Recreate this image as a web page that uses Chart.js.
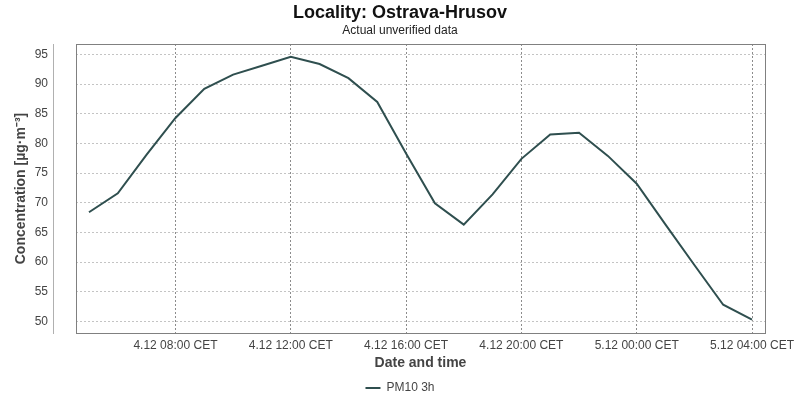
<!DOCTYPE html>
<html>
<head>
<meta charset="utf-8">
<script src="https://cdn.jsdelivr.net/npm/chart.js@4/dist/chart.umd.min.js"></script>
<style>
  html, body { margin: 0; background: #fff; }
</style>
</head>
<body>
<canvas id="chart" width="800" height="400"></canvas>
<script>
// hours counted from 4.12 00:00 CET (24 = 5.12 00:00)
const hours = [5, 6, 7, 8, 9, 10, 11, 12, 13, 14, 15, 16, 17, 18, 19, 20, 21, 22, 23, 24, 25, 26, 27, 28];
const pm10 = [68.4, 71.6, 78.1, 84.3, 89.2, 91.6, 93.1, 94.6, 93.4, 91.0, 87.0, 78.3, 69.9, 66.3, 71.4, 77.4, 81.5, 81.8, 77.9, 73.2, 66.3, 59.5, 52.8, 50.3];

const xTickHours = [8, 12, 16, 20, 24, 28];
const xTickLabels = ["4.12 08:00 CET", "4.12 12:00 CET", "4.12 16:00 CET", "4.12 20:00 CET", "5.12 00:00 CET", "5.12 04:00 CET"];
const yTicks = [50, 55, 60, 65, 70, 75, 80, 85, 90, 95];

const FONT = "'Liberation Sans', Arial, sans-serif";
const LINE = "#2f4f4f";
const TEXT = "#444444";

// plot frame + detached value axis line
const framePlugin = {
  id: "frame",
  afterDraw(chart) {
    const { ctx, chartArea: a } = chart;
    ctx.save();
    ctx.strokeStyle = "#808080";
    ctx.lineWidth = 1;
    ctx.strokeRect(a.left + 0.5, a.top + 0.5, a.right - a.left, a.bottom - a.top);
    ctx.strokeStyle = "#b0b0b0";
    ctx.beginPath();
    ctx.moveTo(a.left - 22.5, a.top);
    ctx.lineTo(a.left - 22.5, a.bottom + 1);
    ctx.stroke();
    ctx.restore();
  },
};

new Chart(document.getElementById("chart"), {
  type: "line",
  data: {
    datasets: [
      {
        label: "PM10 3h",
        data: hours.map((h, i) => ({ x: h, y: pm10[i] })),
        borderColor: LINE,
        backgroundColor: LINE,
        borderWidth: 2,
        pointRadius: 0,
        tension: 0,
      },
    ],
  },
  options: {
    responsive: false,
    animation: false,
    layout: { padding: { left: 4, right: 4, top: 0, bottom: -4 } },
    plugins: {
      title: {
        display: true,
        text: "Locality: Ostrava-Hrusov",
        color: "#111",
        font: { family: FONT, size: 18, weight: "bold" },
        padding: { top: 2, bottom: 0 },
      },
      subtitle: {
        display: true,
        text: "Actual unverified data",
        color: "#222",
        font: { family: FONT, size: 12 },
        padding: { top: 0, bottom: 6 },
      },
      legend: {
        position: "bottom",
        labels: {
          color: TEXT,
          font: { family: FONT, size: 12 },
          boxWidth: 15,
          boxHeight: 0,
          padding: 0,
        },
      },
      tooltip: { enabled: false },
    },
    scales: {
      x: {
        type: "linear",
        min: 4.55,
        max: 28.45,
        afterBuildTicks: (scale) => {
          scale.ticks = xTickHours.map((v) => ({ value: v }));
        },
        afterFit: (scale) => {
          scale.height = 49;
        },
        ticks: {
          padding: 5,
          maxRotation: 0,
          autoSkip: false,
          color: TEXT,
          font: { family: FONT, size: 12 },
          callback: (v) => xTickLabels[xTickHours.indexOf(v)],
        },
        grid: { color: "#8c8c8c", drawTicks: false },
        border: { display: false, dash: [2, 2] },
        title: {
          display: true,
          text: "Date and time",
          color: TEXT,
          font: { family: FONT, size: 14, weight: "bold" },
          padding: { top: 0, bottom: 10 },
        },
      },
      y: {
        min: 48.03,
        max: 96.77,
        afterBuildTicks: (scale) => {
          scale.ticks = yTicks.map((v) => ({ value: v }));
        },
        afterFit: (scale) => {
          scale.width = 72;
        },
        ticks: {
          padding: 28,
          color: TEXT,
          font: { family: FONT, size: 12 },
        },
        grid: { color: "#c4c4c4", drawTicks: false },
        border: { display: false, dash: [2, 2] },
        title: {
          display: true,
          text: "Concentration [µg·m⁻³]",
          color: TEXT,
          font: { family: FONT, size: 14, weight: "bold" },
          padding: { top: 9, bottom: 0 },
        },
      },
      // empty right-hand gutter so titles and legend stay centred on the page
      gutter: {
        type: "linear",
        position: "right",
        grid: { display: false },
        ticks: { display: false },
        border: { display: false },
        afterFit: (scale) => {
          scale.width = 31;
        },
      },
    },
  },
  plugins: [framePlugin],
});
</script>
</body>
</html>
